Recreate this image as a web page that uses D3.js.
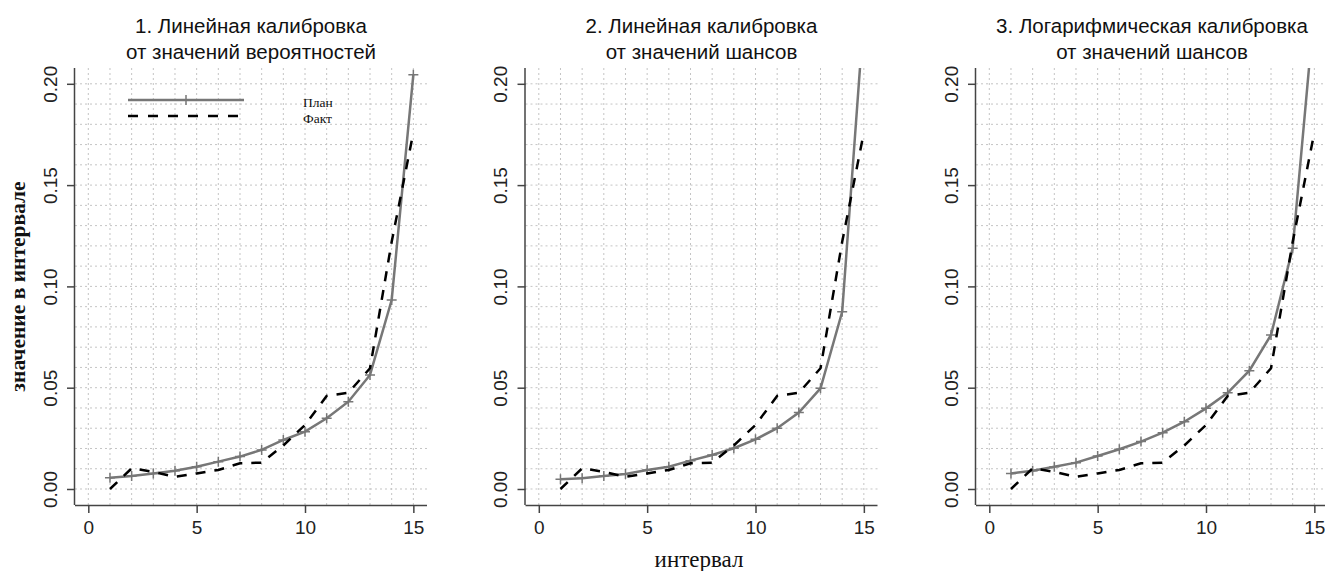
<!DOCTYPE html>
<html>
<head>
<meta charset="utf-8">
<script src="https://cdn.jsdelivr.net/npm/d3@7"></script>
<style>
  body { margin: 0; background: #fff; }
  svg { display: block; }
  .tick text { font-family: "Liberation Sans", Arial, sans-serif; fill: #222; }
</style>
</head>
<body>
<svg id="chart" width="1325" height="571"></svg>
<script>
// интервалы 1..15
var intervals = d3.range(1, 16);

// факт - одинаковый на всех трёх графиках
var fact = [0, 0.0102, 0.0085, 0.006, 0.0077, 0.0094, 0.0127, 0.013, 0.0215, 0.0316, 0.0459, 0.0475, 0.0596, 0.122, 0.176];

// план по каждой калибровке
var planLinProb = [0.0056, 0.0064, 0.0077, 0.009, 0.011, 0.0135, 0.016, 0.0193, 0.0242, 0.0283, 0.0349, 0.0431, 0.0563, 0.0933, 0.2045];
var planLinOdds = [0.0048, 0.0053, 0.0064, 0.0074, 0.0094, 0.011, 0.014, 0.0168, 0.0201, 0.0245, 0.03, 0.0377, 0.0497, 0.0875, 0.234];
var planLogOdds = [0.0077, 0.009, 0.011, 0.013, 0.0163, 0.0196, 0.0234, 0.0278, 0.0332, 0.0398, 0.0475, 0.0584, 0.076, 0.1188, 0.237];

var titles = [
  ["1. Линейная калибровка", "от значений вероятностей"],
  ["2. Линейная калибровка", "от значений шансов"],
  ["3. Логарифмическая калибровка", "от значений шансов"]
];
var plans = [planLinProb, planLinOdds, planLogOdds];

var xTicks = [0, 5, 10, 15];
var yTicks = [0, 0.05, 0.10, 0.15, 0.20];
var legendLabels = ["План", "Факт"];

var svg = d3.select("#chart");

var plotW = 352, plotTop = 68, plotBottom = 505;
var panelStep = 450.5, firstLeft = 75;

var planColor = "#777", factColor = "#000", gridColor = "#c4c4c4";

plans.forEach(function(plan, i) {
  var left = firstLeft + i * panelStep;

  var x = d3.scaleLinear().domain([-0.614, 15.63]).range([left, left + plotW]);
  var y = d3.scaleLinear().domain([-0.0079, 0.2078]).range([plotBottom, plotTop]);

  var g = svg.append("g");
  var clipId = "clip" + i;
  svg.append("clipPath").attr("id", clipId)
    .append("rect")
    .attr("x", left).attr("y", plotTop)
    .attr("width", plotW).attr("height", plotBottom - plotTop);

  // сетка
  var grid = g.append("g").attr("stroke", gridColor).attr("stroke-width", 1).attr("stroke-dasharray", "2,3");
  grid.selectAll(".vx").data(d3.range(0, 16)).enter().append("line")
    .attr("x1", function(d) { return x(d); }).attr("x2", function(d) { return x(d); })
    .attr("y1", plotTop).attr("y2", plotBottom);
  grid.selectAll(".hy").data(d3.range(0, 21)).enter().append("line")
    .attr("x1", left).attr("x2", left + plotW)
    .attr("y1", function(d) { return y(d / 100); }).attr("y2", function(d) { return y(d / 100); });

  // оси
  var xAxis = g.append("g").attr("transform", "translate(0," + plotBottom + ")")
    .call(d3.axisBottom(x).tickValues(xTicks).tickSize(8).tickPadding(8).tickFormat(d3.format("d")));
  xAxis.select(".domain").attr("d", "M" + left + ",0.5H" + (left + plotW));
  xAxis.selectAll("text").style("font-size", "19px");

  var yAxis = g.append("g").attr("transform", "translate(" + left + ",0)")
    .call(d3.axisLeft(y).tickValues(yTicks).tickSize(8).tickFormat(d3.format(".2f")));
  yAxis.select(".domain").attr("d", "M-0.5," + plotTop + "V" + plotBottom);
  yAxis.selectAll("text")
    .style("font-size", "19px")
    .attr("text-anchor", "middle")
    .attr("dy", null)
    .attr("x", null)
    .attr("transform", "translate(-25,0) rotate(-90)")
    .attr("dominant-baseline", "central");
  g.selectAll(".domain, .tick line").attr("stroke", "#444").attr("stroke-width", 1.5);

  // линии
  var line = function(vals) {
    return d3.line().x(function(d, k) { return x(intervals[k]); }).y(function(d) { return y(d); })(vals);
  };
  var lines = g.append("g").attr("clip-path", "url(#" + clipId + ")");
  lines.append("path").attr("d", line(plan))
    .attr("fill", "none").attr("stroke", planColor).attr("stroke-width", 2.5);
  lines.selectAll(".pt").data(plan).enter().append("path")
    .attr("d", function(d, k) {
      var cx = x(intervals[k]), cy = y(d);
      return "M" + (cx - 5) + "," + cy + "H" + (cx + 5) + "M" + cx + "," + (cy - 5) + "V" + (cy + 5);
    })
    .attr("stroke", planColor).attr("stroke-width", 1.5);
  lines.append("path").attr("d", line(fact))
    .attr("fill", "none").attr("stroke", factColor).attr("stroke-width", 2.5)
    .attr("stroke-dasharray", "10,9");

  // заголовок
  var t = svg.append("text")
    .attr("text-anchor", "middle")
    .style("font-family", "'Liberation Sans', Arial, sans-serif")
    .style("font-size", "20.5px")
    .attr("fill", "#111");
  titles[i].forEach(function(s, k) {
    t.append("tspan").attr("x", left + plotW / 2).attr("y", 33 + k * 26).text(s);
  });

  // легенда только на первом графике
  if (i === 0) {
    var lg = svg.append("g");
    lg.append("line").attr("x1", 128).attr("x2", 244).attr("y1", 100).attr("y2", 100)
      .attr("stroke", planColor).attr("stroke-width", 2.5);
    lg.append("line").attr("x1", 186).attr("x2", 186).attr("y1", 95).attr("y2", 105)
      .attr("stroke", planColor).attr("stroke-width", 1.5);
    lg.append("line").attr("x1", 128).attr("x2", 240).attr("y1", 116).attr("y2", 116)
      .attr("stroke", factColor).attr("stroke-width", 2.5).attr("stroke-dasharray", "10,10");
    lg.selectAll(".lt").data(legendLabels).enter().append("text")
      .attr("x", 303).attr("y", function(d, k) { return 107 + k * 16; })
      .style("font-family", "'Liberation Serif', 'Times New Roman', serif")
      .style("font-size", "13.5px")
      .attr("fill", "#111")
      .text(function(d) { return d; });
  }
});

// подписи осей
svg.append("text")
  .attr("transform", "translate(25," + ((plotTop + plotBottom) / 2) + ") rotate(-90)")
  .attr("text-anchor", "middle")
  .style("font-family", "'Liberation Serif', 'Times New Roman', serif")
  .style("font-size", "21.5px").style("font-weight", "bold")
  .attr("fill", "#111")
  .text("значение в интервале");

svg.append("text")
  .attr("x", 699).attr("y", 567)
  .attr("text-anchor", "middle")
  .style("font-family", "'Liberation Serif', 'Times New Roman', serif")
  .style("font-size", "23px")
  .attr("fill", "#111")
  .text("интервал");
</script>
</body>
</html>
